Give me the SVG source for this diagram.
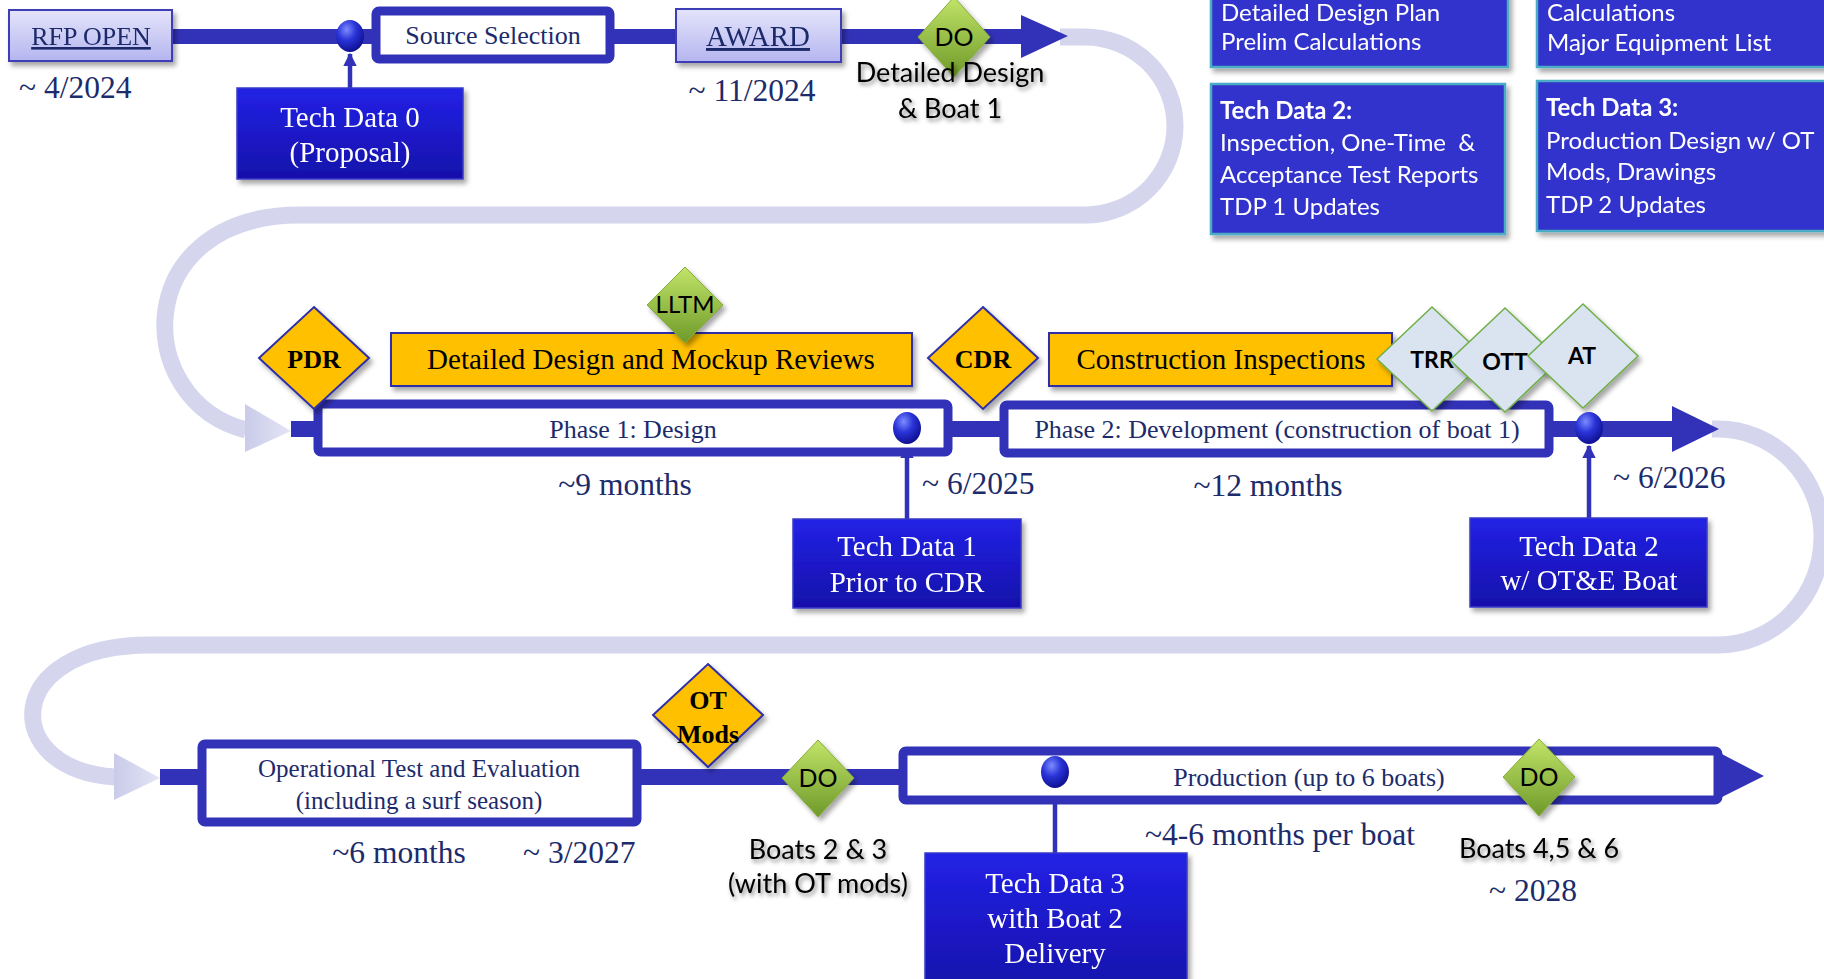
<svg xmlns="http://www.w3.org/2000/svg" width="1824" height="979" viewBox="0 0 1824 979">
<defs>
<style>
.serif{font-family:"Liberation Serif","Times New Roman",serif}
.sans{font-family:Lato,"Liberation Sans",sans-serif}
.navy{fill:#1c2b6b}
.bar{fill:#3232b8}
.phase{fill:#ffffff;stroke:#3232b8;stroke-width:9}
.lav{fill:url(#lavG);stroke:#3d3db8;stroke-width:2}
.td{fill:url(#tdG);stroke:#3a3ac8;stroke-width:1.5}
.tdtxt{fill:#ffffff;font-size:29px;text-anchor:middle}
.info{fill:#3333cc;stroke:#4bacc6;stroke-width:2.5}
.infotxt{fill:#ffffff;font-size:24px}
.orange{fill:#ffc000;stroke:#2f2fa8;stroke-width:2}
.gdia{fill:url(#grnG);stroke:#86ad3a;stroke-width:1}
.ldia{fill:#dae3f0;stroke:#6fae47;stroke-width:1.5}
.ball{fill:url(#ballG)}
.curve{fill:none;stroke:#d5d6ee;stroke-width:17}
.ctri{fill:url(#triG)}
.link{stroke:#3232b8;stroke-width:4.5;fill:none}
.lbl{font-size:31.5px}
.mid{text-anchor:middle}
</style>
<linearGradient id="lavG" x1="0" y1="0" x2="0" y2="1"><stop offset="0" stop-color="#e4e4fb"/><stop offset="1" stop-color="#b5b5f0"/></linearGradient>
<linearGradient id="tdG" x1="0" y1="0" x2="0" y2="1"><stop offset="0" stop-color="#2222e6"/><stop offset="1" stop-color="#1610aa"/></linearGradient>
<linearGradient id="grnG" x1="0" y1="0" x2="0" y2="1"><stop offset="0" stop-color="#c2e468"/><stop offset="1" stop-color="#6e9a2a"/></linearGradient>
<linearGradient id="triG" x1="0" y1="0" x2="1" y2="0"><stop offset="0" stop-color="#c9cbe9"/><stop offset="1" stop-color="#e4e5f5"/></linearGradient>
<radialGradient id="ballG" cx="0.38" cy="0.3" r="0.75"><stop offset="0" stop-color="#7c8cff"/><stop offset="0.45" stop-color="#2a34d8"/><stop offset="1" stop-color="#0c0c8a"/></radialGradient>
<filter id="sh" x="-10%" y="-10%" width="130%" height="140%"><feDropShadow dx="3" dy="4" stdDeviation="2.5" flood-color="#000" flood-opacity="0.35"/></filter>
<filter id="tsh" x="-10%" y="-20%" width="130%" height="160%"><feDropShadow dx="2" dy="3" stdDeviation="2" flood-color="#000" flood-opacity="0.45"/></filter>
<marker id="up" viewBox="0 0 10 10" refX="9" refY="5" markerWidth="3" markerHeight="3" orient="auto"><path d="M0,0 L10,5 L0,10 z" fill="#3232b8"/></marker>
</defs>

<g id="connectors">
  <path class="curve" d="M1060 37 H1085 A90 89 0 0 1 1085 215 H300 C130 215 130 400 246 430"/>
  <polygon class="ctri" points="245,404 291,431 245,452"/>
  <path class="curve" d="M1712 429 H1718 A104 108 0 0 1 1718 645 H150 C0 645 0 770 115 777"/>
  <polygon class="ctri" points="114,753 160,778 114,800"/>
  <rect class="bar" x="170" y="29" width="855" height="15"/>
  <polygon class="bar" points="1021,15 1068,36 1021,58"/>
  <rect class="bar" x="291" y="421" width="1384" height="16"/>
  <polygon class="bar" points="1672,406 1719,429 1672,452"/>
  <rect class="bar" x="160" y="769" width="742" height="16"/>
  <polygon class="bar" points="1716,751 1764,776 1716,800"/>
  <line class="link" x1="350" y1="88" x2="350" y2="54" marker-end="url(#up)"/>
  <line class="link" x1="907" y1="519" x2="907" y2="446" marker-end="url(#up)"/>
  <line class="link" x1="1589" y1="518" x2="1589" y2="446" marker-end="url(#up)"/>
  <line class="link" x1="1055" y1="853" x2="1055" y2="789" marker-end="url(#up)"/>
</g>

<g id="info-boxes">
  <g id="info-td1" filter="url(#sh)">
    <rect class="info" x="1211" y="-10" width="297" height="77"/>
    <text class="sans infotxt" x="1221" y="21">Detailed Design Plan</text>
    <text class="sans infotxt" x="1221" y="50">Prelim Calculations</text>
  </g>
  <g id="info-td1b" filter="url(#sh)">
    <rect class="info" x="1537" y="-10" width="300" height="77"/>
    <text class="sans infotxt" x="1547" y="21">Calculations</text>
    <text class="sans infotxt" x="1547" y="51">Major Equipment List</text>
  </g>
  <g id="info-td2" filter="url(#sh)">
    <rect class="info" x="1211" y="84" width="294" height="150"/>
    <text class="sans infotxt" x="1220" y="119" font-weight="bold">Tech Data 2:</text>
    <text class="sans infotxt" x="1220" y="151" xml:space="preserve">Inspection, One-Time  &amp;</text>
    <text class="sans infotxt" x="1220" y="183">Acceptance Test Reports</text>
    <text class="sans infotxt" x="1220" y="215">TDP 1 Updates</text>
  </g>
  <g id="info-td3" filter="url(#sh)">
    <rect class="info" x="1537" y="81" width="300" height="150"/>
    <text class="sans infotxt" x="1546" y="116" font-weight="bold">Tech Data 3:</text>
    <text class="sans infotxt" x="1546" y="149">Production Design w/ OT</text>
    <text class="sans infotxt" x="1546" y="180">Mods, Drawings</text>
    <text class="sans infotxt" x="1546" y="213">TDP 2 Updates</text>
  </g>
</g>

<!-- Row 1 -->
<g id="rfp-open" filter="url(#sh)">
  <rect class="lav" x="9" y="10" width="163" height="51"/>
  <text class="serif navy mid" x="91" y="45" font-size="26" text-decoration="underline">RFP OPEN</text>
</g>
<text class="serif navy lbl" x="19" y="98">~ 4/2024</text>
<g id="source-selection">
  <rect class="phase" x="376" y="11" width="234" height="48" rx="3"/>
  <text class="serif navy mid" x="493" y="44" font-size="26">Source Selection</text>
</g>
<ellipse id="ball0" class="ball" cx="350" cy="36" rx="14" ry="16"/>
<g id="tech-data-0" filter="url(#sh)">
  <rect class="td" x="237" y="88" width="226" height="91"/>
  <text class="serif tdtxt" x="350" y="127">Tech Data 0</text>
  <text class="serif tdtxt" x="350" y="162">(Proposal)</text>
</g>
<g id="award" filter="url(#sh)">
  <rect class="lav" x="676" y="9" width="165" height="53"/>
  <text class="serif navy mid" x="758" y="46" font-size="29" text-decoration="underline">AWARD</text>
</g>
<text class="serif navy lbl mid" x="752" y="101">~ 11/2024</text>
<g id="do-1">
  <polygon class="gdia" points="954,-3 990,37 954,77 918,37" filter="url(#sh)"/>
  <text class="sans mid" x="954" y="46" font-size="25">DO</text>
</g>
<g id="do-1-label" filter="url(#tsh)">
  <text class="sans mid" x="950" y="82" font-size="27">Detailed Design</text>
  <text class="sans mid" x="950" y="118" font-size="27">&amp; Boat 1</text>
</g>

<!-- Row 2 -->
<g id="phase-1">
  <rect class="phase" x="318" y="404" width="630" height="48" rx="3"/>
  <text class="serif navy mid" x="633" y="438" font-size="26">Phase 1: Design</text>
</g>
<g id="phase-2">
  <rect class="phase" x="1004" y="405" width="545" height="48" rx="3"/>
  <text class="serif navy mid" x="1277" y="438" font-size="26">Phase 2: Development (construction of boat 1)</text>
</g>
<g id="pdr">
  <polygon class="orange" points="314,307 369,358 314,409 259,358" filter="url(#sh)"/>
  <text class="serif mid" x="314" y="368" font-size="26" font-weight="bold">PDR</text>
</g>
<g id="design-reviews">
  <rect class="orange" x="391" y="333" width="521" height="53" filter="url(#sh)"/>
  <text class="serif mid" x="651" y="369" font-size="29">Detailed Design and Mockup Reviews</text>
</g>
<g id="lltm">
  <polygon class="gdia" points="685,267 723,305 685,343 647,305" filter="url(#sh)"/>
  <text class="sans mid" x="685" y="313" font-size="24">LLTM</text>
</g>
<g id="cdr">
  <polygon class="orange" points="983,307 1038,358 983,409 928,358" filter="url(#sh)"/>
  <text class="serif mid" x="983" y="368" font-size="26" font-weight="bold">CDR</text>
</g>
<g id="construction-inspections">
  <rect class="orange" x="1049" y="333" width="343" height="53" filter="url(#sh)"/>
  <text class="serif mid" x="1221" y="369" font-size="29">Construction Inspections</text>
</g>
<g id="trr">
  <polygon class="ldia" points="1432,307 1487,359 1432,411 1377,359" filter="url(#sh)"/>
  <text class="sans mid" x="1432" y="368" font-size="23" font-weight="bold">TRR</text>
</g>
<g id="ott">
  <polygon class="ldia" points="1505,308 1560,360 1505,412 1450,360" filter="url(#sh)"/>
  <text class="sans mid" x="1505" y="370" font-size="23" font-weight="bold">OTT</text>
</g>
<g id="at">
  <polygon class="ldia" points="1583,304 1638,356 1583,408 1528,356" filter="url(#sh)"/>
  <text class="sans mid" x="1582" y="364" font-size="23" font-weight="bold">AT</text>
</g>
<ellipse id="ball1" class="ball" cx="907" cy="428" rx="14" ry="16"/>
<ellipse id="ball2" class="ball" cx="1589" cy="428" rx="14" ry="16"/>
<g id="tech-data-1" filter="url(#sh)">
  <rect class="td" x="793" y="519" width="228" height="89"/>
  <text class="serif tdtxt" x="907" y="556">Tech Data 1</text>
  <text class="serif tdtxt" x="907" y="592">Prior to CDR</text>
</g>
<g id="tech-data-2" filter="url(#sh)">
  <rect class="td" x="1470" y="518" width="237" height="89"/>
  <text class="serif tdtxt" x="1589" y="556">Tech Data 2</text>
  <text class="serif tdtxt" x="1589" y="590">w/ OT&amp;E Boat</text>
</g>
<text class="serif navy lbl mid" x="625" y="495">~9 months</text>
<text class="serif navy lbl" x="922" y="494">~ 6/2025</text>
<text class="serif navy lbl mid" x="1268" y="496">~12 months</text>
<text class="serif navy lbl" x="1613" y="488">~ 6/2026</text>

<!-- Row 3 -->
<g id="ote">
  <rect class="phase" x="202" y="744" width="435" height="78" rx="3"/>
  <text class="serif navy mid" x="419" y="777" font-size="25">Operational Test and Evaluation</text>
  <text class="serif navy mid" x="419" y="809" font-size="25">(including a surf season)</text>
</g>
<g id="production">
  <rect class="phase" x="903" y="751" width="815" height="49" rx="3"/>
  <text class="serif navy mid" x="1309" y="786" font-size="26">Production (up to 6 boats)</text>
</g>
<g id="ot-mods">
  <polygon class="orange" points="708,664 763,715 708,767 653,715" filter="url(#sh)"/>
  <text class="serif mid" x="708" y="709" font-size="26" font-weight="bold">OT</text>
  <text class="serif mid" x="708" y="743" font-size="26" font-weight="bold">Mods</text>
</g>
<g id="do-2">
  <polygon class="gdia" points="818,740 854,778 818,817 782,778" filter="url(#sh)"/>
  <text class="sans mid" x="818" y="787" font-size="25">DO</text>
</g>
<g id="do-2-label" filter="url(#tsh)">
  <text class="sans mid" x="818" y="859" font-size="27">Boats 2 &amp; 3</text>
  <text class="sans mid" x="818" y="893" font-size="27">(with OT mods)</text>
</g>
<ellipse id="ball3" class="ball" cx="1055" cy="772" rx="14" ry="16"/>
<g id="tech-data-3" filter="url(#sh)">
  <rect class="td" x="925" y="853" width="262" height="140"/>
  <text class="serif tdtxt" x="1055" y="893">Tech Data 3</text>
  <text class="serif tdtxt" x="1055" y="928">with Boat 2</text>
  <text class="serif tdtxt" x="1055" y="963">Delivery</text>
</g>
<g id="do-3">
  <polygon class="gdia" points="1539,739 1575,777 1539,816 1503,777" filter="url(#sh)"/>
  <text class="sans mid" x="1539" y="786" font-size="25">DO</text>
</g>
<g id="do-3-label">
  <text class="sans mid" x="1539" y="858" font-size="27" filter="url(#tsh)">Boats 4,5 &amp; 6</text>
  <text class="serif navy lbl mid" x="1533" y="901">~ 2028</text>
</g>
<text class="serif navy lbl mid" x="399" y="863">~6 months</text>
<text class="serif navy lbl" x="523" y="863">~ 3/2027</text>
<text class="serif navy lbl mid" x="1280" y="845">~4-6 months per boat</text>
</svg>
